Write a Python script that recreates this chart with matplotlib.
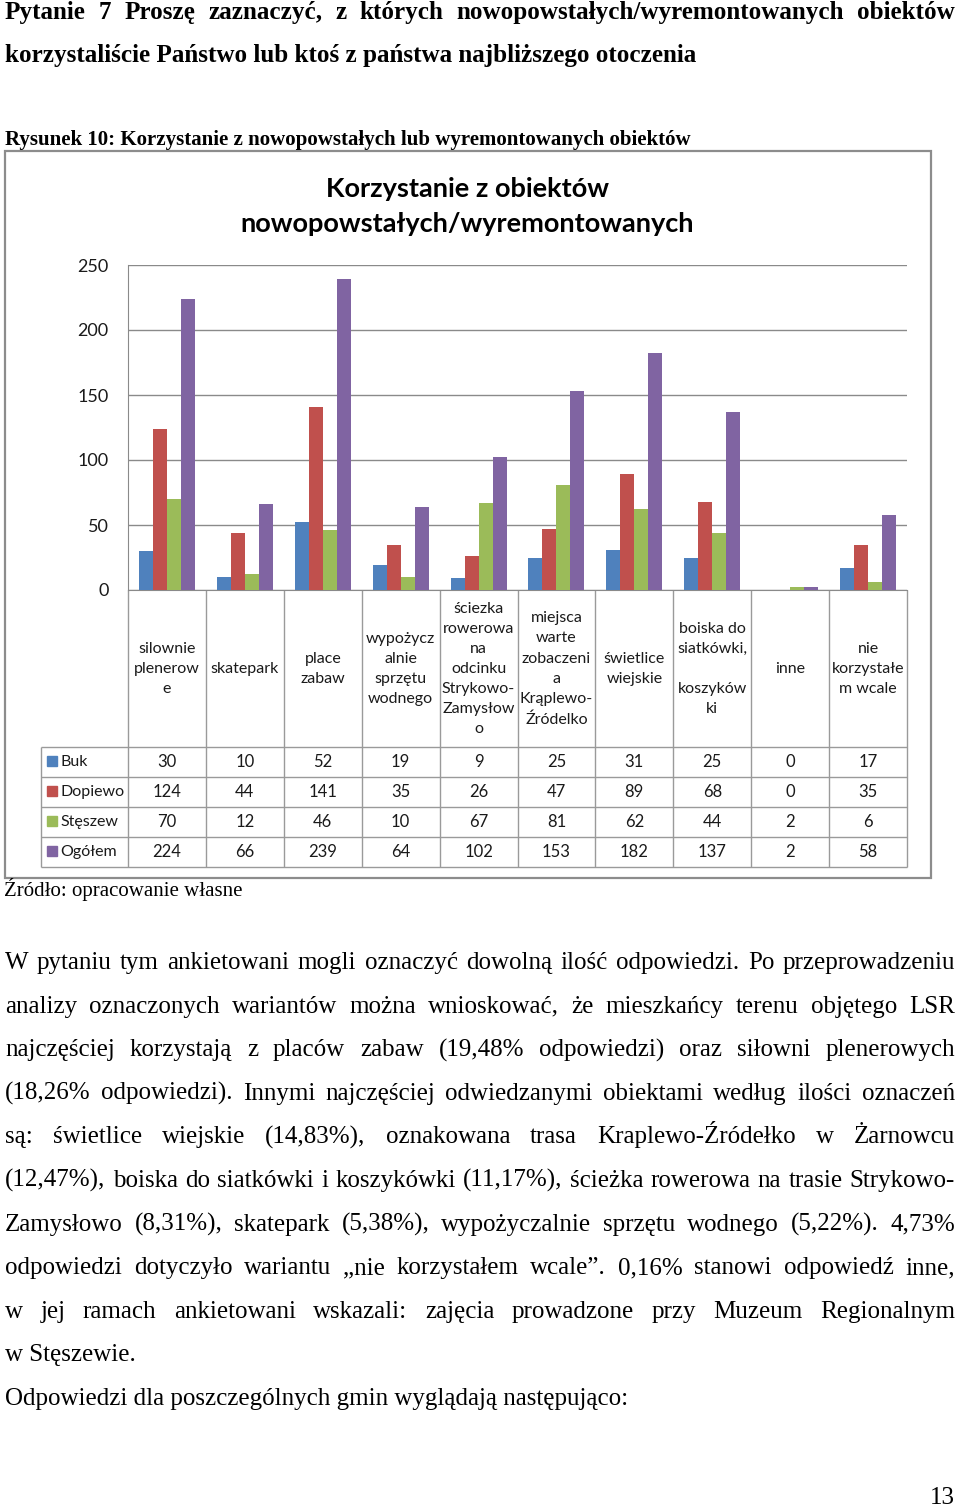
import matplotlib
matplotlib.use('Agg')
import matplotlib.pyplot as plt
from matplotlib.patches import Rectangle
from matplotlib.transforms import blended_transform_factory

# data
categories = ['silownie\nplenerow\ne', 'skatepark', 'place\nzabaw',
              'wypożycz\nalnie\nsprzętu\nwodnego',
              'ściezka\nrowerowa\nna\nodcinku\nStrykowo-\nZamysłow\no',
              'miejsca\nwarte\nzobaczeni\na\nKrąplewo-\nŹródelko',
              'świetlice\nwiejskie', 'boiska do\nsiatkówki,\n\nkoszyków\nki',
              'inne', 'nie\nkorzystałe\nm wcale']
series_names = ['Buk', 'Dopiewo', 'Stęszew', 'Ogółem']
buk = [30, 10, 52, 19, 9, 25, 31, 25, 0, 17]
dopiewo = [124, 44, 141, 35, 26, 47, 89, 68, 0, 35]
steszew = [70, 12, 46, 10, 67, 81, 62, 44, 2, 6]
ogolem = [224, 66, 239, 64, 102, 153, 182, 137, 2, 58]
colors = ['#4F81BD', '#C0504D', '#9BBB59', '#8064A2']

heading = ['Pytanie 7 Proszę zaznaczyć, z których nowopowstałych/wyremontowanych obiektów',
           'korzystaliście Państwo lub ktoś z państwa najbliższego otoczenia']
figure_caption = 'Rysunek 10: Korzystanie z nowopowstałych lub wyremontowanych obiektów'
chart_title = ['Korzystanie z obiektów', 'nowopowstałych/wyremontowanych']
source = 'Źródło: opracowanie własne'
body = [
    'W pytaniu tym ankietowani mogli oznaczyć dowolną ilość odpowiedzi. Po przeprowadzeniu',
    'analizy oznaczonych wariantów można wnioskować, że mieszkańcy terenu objętego LSR',
    'najczęściej korzystają z placów zabaw (19,48% odpowiedzi) oraz siłowni plenerowych',
    '(18,26% odpowiedzi). Innymi najczęściej odwiedzanymi obiektami według ilości oznaczeń',
    'są: świetlice wiejskie (14,83%), oznakowana trasa Kraplewo-Źródełko w Żarnowcu',
    '(12,47%), boiska do siatkówki i koszykówki (11,17%), ścieżka rowerowa na trasie Strykowo-',
    'Zamysłowo (8,31%), skatepark (5,38%), wypożyczalnie sprzętu wodnego (5,22%). 4,73%',
    'odpowiedzi dotyczyło wariantu „nie korzystałem wcale”. 0,16% stanowi odpowiedź inne,',
    'w jej ramach ankietowani wskazali: zajęcia prowadzone przy Muzeum Regionalnym',
    'w Stęszewie.',
    'Odpowiedzi dla poszczególnych gmin wyglądają następująco:',
]
body_left = [9, 10]  # paragraph-ending lines, not justified
page_number = '13'

W, H = 960, 1509
fig = plt.figure(figsize=(W / 100, H / 100), dpi=100)
page = fig.add_axes([0, 0, 1, 1])
page.set_xlim(0, W)
page.set_ylim(H, 0)
page.axis('off')
renderer = fig.canvas.get_renderer()

SERIF = 'Liberation Serif'
SANS = 'Lato'


def text_width(s, **kw):
    t = page.text(0, 0, s, **kw)
    w = t.get_window_extent(renderer).width
    t.remove()
    return w


def fit_size(s, target, **kw):
    return 10 * target / text_width(s, fontsize=10, **kw)


def justify(line, y, x0, x1, **kw):
    words = line.split(' ')
    widths = [text_width(w, **kw) for w in words]
    gap = (x1 - x0 - sum(widths)) / (len(words) - 1)
    x = x0
    for w, wd in zip(words, widths):
        page.text(x, y, w, ha='left', va='baseline', **kw)
        x += wd + gap


# heading
hs = fit_size(heading[1], 692, family=SERIF, weight='bold')
justify(heading[0], 19, 5, 955, family=SERIF, weight='bold', fontsize=hs)
page.text(5, 62, heading[1], ha='left', va='baseline', family=SERIF, weight='bold', fontsize=hs)

cs = fit_size(figure_caption, 688, family=SERIF, weight='bold')
page.text(5, 145, figure_caption, ha='left', va='baseline', family=SERIF, weight='bold', fontsize=cs)

# chart frame
page.add_patch(Rectangle((5, 151), 926, 727, fill=False, edgecolor='#8c8c8c', lw=1.6))

ts = fit_size(chart_title[1], 455, family=SANS, weight='bold')
page.text(467, 197, chart_title[0], ha='center', va='baseline', family=SANS, weight='bold', fontsize=ts)
page.text(467, 232, chart_title[1], ha='center', va='baseline', family=SANS, weight='bold', fontsize=ts)

# bar chart
ax = fig.add_axes([128 / W, 1 - 590 / H, (907 - 128) / W, (590 - 265) / H])
ax.set_facecolor('none')
x = list(range(len(categories)))
bw = 0.18
for k, (vals, col) in enumerate(zip([buk, dopiewo, steszew, ogolem], colors)):
    ax.bar([i + (k - 1.5) * bw for i in x], vals, width=bw, color=col, zorder=3)
ax.set_xlim(-0.5, len(categories) - 0.5)
ax.set_ylim(0, 250)
ax.set_yticks(range(0, 251, 50))
ax.set_xticks([])
ax.yaxis.grid(True, color='#8a8a8a', lw=1)
ax.set_axisbelow(True)
for s in ['top', 'right']:
    ax.spines[s].set_visible(False)
for s in ['left', 'bottom']:
    ax.spines[s].set_color('#8a8a8a')
ax.tick_params(axis='y', length=0, pad=14, labelsize=13, labelcolor='#1a1a1a')
for lab in ax.get_yticklabels():
    lab.set_family(SANS)

# category labels and data table
blend = blended_transform_factory(ax.transData, page.transData)
grid_col = '#9a9a9a'
edges = [i - 0.5 for i in range(len(categories) + 1)]
page.vlines(edges, 590, 867, transform=blend, color=grid_col, lw=1)
page.hlines([747, 777, 807, 837, 867], 41, 907, color=grid_col, lw=1)
page.vlines([41], 747, 867, color=grid_col, lw=1)

for i, cat in enumerate(categories):
    page.text(i, 669, cat, transform=blend, ha='center', va='center',
              family=SANS, fontsize=11.5, linespacing=1.56, color='#1a1a1a')

rows = [buk, dopiewo, steszew, ogolem]
for r, (name, vals, col) in enumerate(zip(series_names, rows, colors)):
    yc = 762 + 30 * r
    page.add_patch(Rectangle((47, yc - 6), 10, 10, color=col))
    page.text(60, yc + 4, name, ha='left', va='baseline', family=SANS, fontsize=11.5, color='#1a1a1a')
    for i, v in enumerate(vals):
        page.text(i, yc + 5, str(v), transform=blend, ha='center', va='baseline',
                  family=SANS, fontsize=12, color='#1a1a1a')

# source line
ss = fit_size(source, 237, family=SERIF)
page.text(4, 896, source, ha='left', va='baseline', family=SERIF, fontsize=ss)

# body paragraph
bs = fit_size(body[-1], 625, family=SERIF)
for k, line in enumerate(body):
    y = 969 + 43.6 * k
    if k in body_left:
        page.text(5, y, line, ha='left', va='baseline', family=SERIF, fontsize=bs)
    else:
        justify(line, y, 5, 955, family=SERIF, fontsize=bs)

page.text(955, 1504, page_number, ha='right', va='baseline', family=SERIF, fontsize=bs)

fig.savefig('out.png', dpi=100)
